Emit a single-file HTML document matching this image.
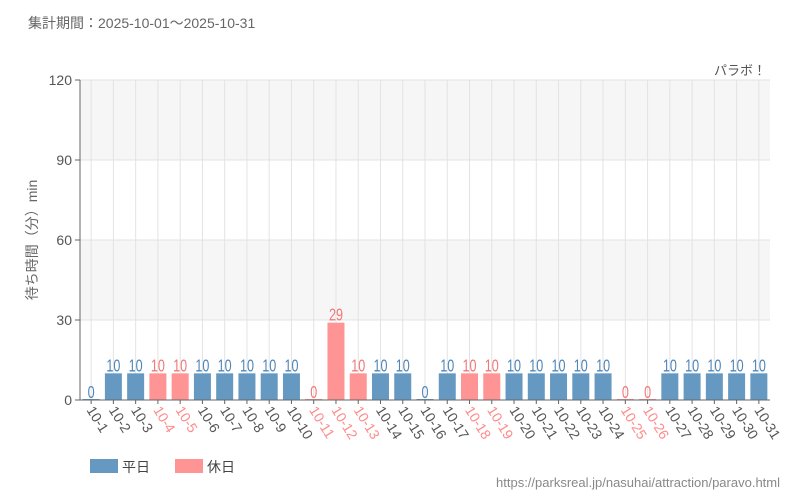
<!DOCTYPE html>
<html><head><meta charset="utf-8"><style>
body{margin:0;background:#fff;}
svg{display:block;font-family:"Liberation Sans","Noto Sans CJK JP",sans-serif;}
</style></head><body>
<svg id="c" width="800" height="500">
<text x="28" y="28" font-size="14" fill="#666">集計期間：2025-10-01～2025-10-31</text>
<text x="766" y="75" font-size="13" fill="#555" text-anchor="end">パラボ！</text>
<text transform="translate(37,240) rotate(-90)" font-size="14" fill="#666" text-anchor="middle">待ち時間（分）min</text>
<g id="plot"></g>
<rect x="90" y="459" width="28" height="14" fill="#6699c2"/>
<text x="122" y="472" font-size="14" fill="#444">平日</text>
<rect x="175" y="459" width="28" height="14" fill="#ff9494"/>
<text x="207" y="472" font-size="14" fill="#444">休日</text>
<text x="780" y="487" font-size="13" fill="#888" text-anchor="end">https://parksreal.jp/nasuhai/attraction/paravo.html</text>
</svg>
<script>
const categories=["10-1","10-2","10-3","10-4","10-5","10-6","10-7","10-8","10-9","10-10","10-11","10-12","10-13","10-14","10-15","10-16","10-17","10-18","10-19","10-20","10-21","10-22","10-23","10-24","10-25","10-26","10-27","10-28","10-29","10-30","10-31"];
const waitValues=[0,10,10,10,10,10,10,10,10,10,0,29,10,10,10,0,10,10,10,10,10,10,10,10,0,0,10,10,10,10,10];
const holidays=[0,0,0,1,1,0,0,0,0,0,1,1,1,0,0,0,0,1,1,0,0,0,0,0,1,1,0,0,0,0,0];
const yTicks=[0,30,60,90,120];
const NS="http://www.w3.org/2000/svg";
const g=document.getElementById('plot');
const X0=80,X1=770,Y0=400,Y1=80,YMAX=120;
const bw=(X1-X0)/categories.length;
const y=v=>Y0-(v/YMAX)*(Y0-Y1);
const xc=i=>X0+bw*(i+0.5);
function mk(t,a){const e=document.createElementNS(NS,t);for(const k in a)e.setAttribute(k,a[k]);g.appendChild(e);return e;}
for(let i=0;i<yTicks.length-1;i++){
  if(i%2==1){const r=mk('rect',{x:X0,y:y(yTicks[i+1]),width:X1-X0,height:y(yTicks[i])-y(yTicks[i+1]),fill:'#f6f6f6'});
  
  }
}
yTicks.forEach(t=>{
  const l=mk('line',{x1:X0-5,x2:X1,y1:y(t),y2:y(t),stroke:'#e3e3e3'});
  
  
  const tk=mk('line',{x1:X0-5,x2:X0,y1:y(t),y2:y(t),stroke:'#666'});
  
  
  const tx=mk('text',{x:X0-8,y:y(t)+5,'font-size':14,fill:'#555','text-anchor':'end'});
  tx.textContent=t;
  
  
});
categories.forEach((c,i)=>{
  const l=mk('line',{x1:xc(i),x2:xc(i),y1:Y1,y2:Y0+4,stroke:'#e3e3e3'});
  
  
});
categories.forEach((c,i)=>{
  const col=holidays[i]?'#ff9494':'#6699c2';
  const tcol=holidays[i]?'#f07878':'#4f86b8';
  const v=waitValues[i];
  const h=Math.max(y(0)-y(v),1);
  const b=mk('rect',{x:xc(i)-8.5,y:y(0)-h,width:17,height:h,fill:col});
  
  
  const vt=mk('text',{x:0,y:0,'font-size':18,fill:tcol,'text-anchor':'middle',transform:`translate(${xc(i)},${y(v)-2}) scale(0.7,1)`});
  vt.textContent=v;
  
  
  const tk=mk('line',{x1:xc(i),x2:xc(i),y1:Y0,y2:Y0+4,stroke:'#666'});
  
  
  const xl=mk('text',{x:0,y:0,'font-size':14,fill:holidays[i]?'#ff8a8a':'#555',transform:`translate(${xc(i)-5},${Y0+10}) rotate(58)`});
  xl.textContent=c;
  
  
});
const ax=mk('line',{x1:X0,x2:X0,y1:Y1,y2:Y0,stroke:'#666'});


const bx=mk('line',{x1:X0-5,x2:X1,y1:Y0,y2:Y0,stroke:'#666'});


</script>
</body></html>
